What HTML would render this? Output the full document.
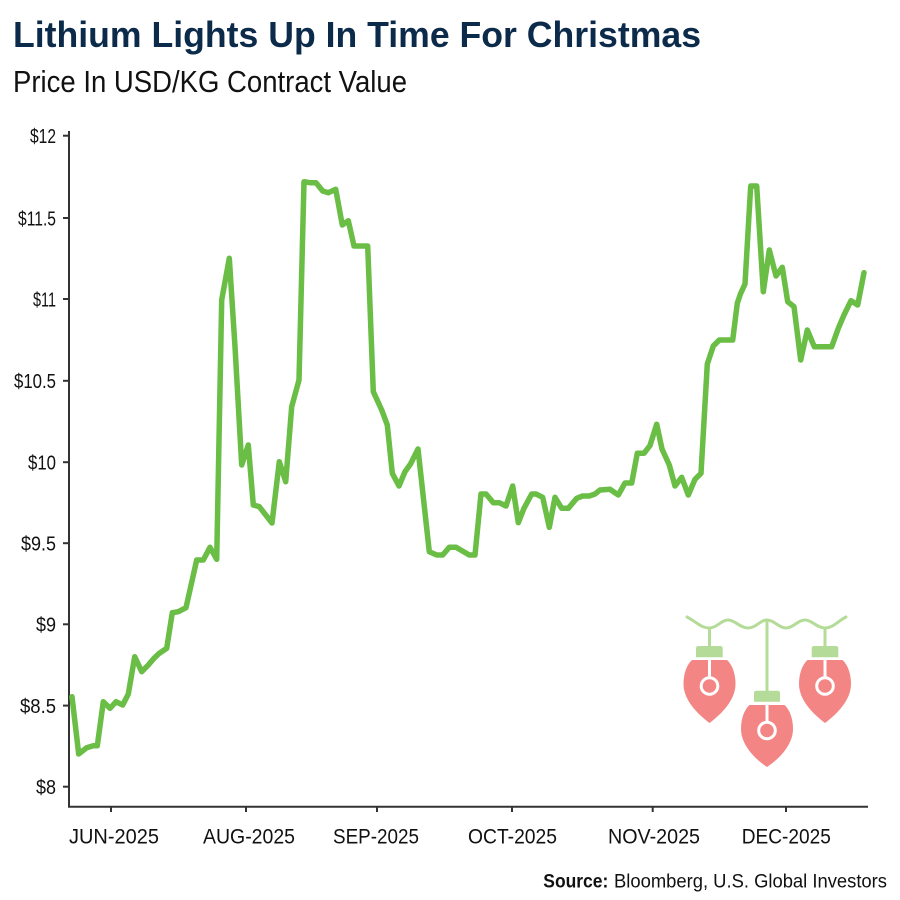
<!DOCTYPE html>
<html>
<head>
<meta charset="utf-8">
<style>
  html, body { margin:0; padding:0; background:#ffffff; }
  body { width:900px; height:900px; overflow:hidden; }
  svg { display:block; }
  text { font-family: "Liberation Sans", "DejaVu Sans", sans-serif; }
</style>
</head>
<body>
<svg width="900" height="900" viewBox="0 0 900 900" xmlns="http://www.w3.org/2000/svg">
  <rect x="0" y="0" width="900" height="900" fill="#ffffff"/>

  <!-- Title -->
  <text x="13" y="47" font-size="36" font-weight="bold" fill="#0c2b4b" textLength="688" lengthAdjust="spacingAndGlyphs">Lithium Lights Up In Time For Christmas</text>
  <text x="13" y="92" font-size="31" fill="#111111" textLength="394" lengthAdjust="spacingAndGlyphs">Price In USD/KG Contract Value</text>

  <!-- Axes -->
  <g stroke="#333333" stroke-width="2" fill="none">
    <line x1="69" y1="131" x2="69" y2="807"/>
    <line x1="68" y1="806.7" x2="868" y2="806.7"/>
    <!-- y ticks -->
    <line x1="63" y1="786.7" x2="69" y2="786.7"/>
    <line x1="63" y1="705.6" x2="69" y2="705.6"/>
    <line x1="63" y1="624.3" x2="69" y2="624.3"/>
    <line x1="63" y1="543.2" x2="69" y2="543.2"/>
    <line x1="63" y1="462.2" x2="69" y2="462.2"/>
    <line x1="63" y1="380.8" x2="69" y2="380.8"/>
    <line x1="63" y1="299" x2="69" y2="299"/>
    <line x1="63" y1="218" x2="69" y2="218"/>
    <line x1="63" y1="135.7" x2="69" y2="135.7"/>
    <!-- x ticks -->
    <line x1="111" y1="806.7" x2="111" y2="812"/>
    <line x1="246" y1="806.7" x2="246" y2="812"/>
    <line x1="377" y1="806.7" x2="377" y2="812"/>
    <line x1="512" y1="806.7" x2="512" y2="812"/>
    <line x1="652.7" y1="806.7" x2="652.7" y2="812"/>
    <line x1="786" y1="806.7" x2="786" y2="812"/>
  </g>

  <!-- Y labels -->
  <g font-size="20" fill="#111111" text-anchor="end">
    <text x="56" y="794" textLength="20" lengthAdjust="spacingAndGlyphs">$8</text>
    <text x="56" y="713" textLength="36" lengthAdjust="spacingAndGlyphs">$8.5</text>
    <text x="56" y="631.6" textLength="20" lengthAdjust="spacingAndGlyphs">$9</text>
    <text x="56" y="550.5" textLength="35" lengthAdjust="spacingAndGlyphs">$9.5</text>
    <text x="56" y="469.5" textLength="28" lengthAdjust="spacingAndGlyphs">$10</text>
    <text x="56" y="388" textLength="42" lengthAdjust="spacingAndGlyphs">$10.5</text>
    <text x="56" y="306.3" textLength="23" lengthAdjust="spacingAndGlyphs">$11</text>
    <text x="56" y="225.3" textLength="38" lengthAdjust="spacingAndGlyphs">$11.5</text>
    <text x="56" y="143" textLength="26" lengthAdjust="spacingAndGlyphs">$12</text>
  </g>

  <!-- X labels -->
  <g font-size="21.5" fill="#111111" text-anchor="middle">
    <text x="114" y="843.3" textLength="90" lengthAdjust="spacingAndGlyphs">JUN-2025</text>
    <text x="249" y="843.3" textLength="92" lengthAdjust="spacingAndGlyphs">AUG-2025</text>
    <text x="376" y="843.3" textLength="86" lengthAdjust="spacingAndGlyphs">SEP-2025</text>
    <text x="512.5" y="843.3" textLength="89" lengthAdjust="spacingAndGlyphs">OCT-2025</text>
    <text x="654" y="843.3" textLength="92" lengthAdjust="spacingAndGlyphs">NOV-2025</text>
    <text x="786.3" y="843.3" textLength="89" lengthAdjust="spacingAndGlyphs">DEC-2025</text>
  </g>

  <!-- Source -->
  <text x="543.3" y="887.3" font-size="19" font-weight="bold" fill="#111111" textLength="65" lengthAdjust="spacingAndGlyphs">Source:</text>
  <text x="614" y="887.3" font-size="19" fill="#111111" textLength="273" lengthAdjust="spacingAndGlyphs">Bloomberg, U.S. Global Investors</text>

  <!-- Data line -->
  <polyline fill="none" stroke="#6abd45" stroke-width="5.5" stroke-linejoin="round" stroke-linecap="round"
    points="72,696.7 78.7,754 86.7,747.7 93.3,745.7 97.3,745.7 103.3,701.7 110,708.3 116,701.7 122.7,705 128.3,694 134.7,656.7 141.7,671.7 148.3,665 154,658.3 159.3,653.3 166.7,648.3 172.3,612.7 178.3,611.7 186,607.7 196.7,560 203.3,560 210,547.3 216.7,559.3 221.7,300 229.3,258.3 235,346.7 241.7,465 248.3,445 253.3,505 259.3,506.7 272,523 279.3,461.7 285.7,481.7 291.7,406.7 299,380 304,181.7 310,182.7 316,182.7 322.7,191 328.3,192.7 335.7,189.3 342.3,225 348.3,220.7 354,246 367.7,246 373.3,391.7 381.7,410 387.3,425 392.3,473.3 399,486 405,471.7 410.5,464 418,449 429.3,551.7 436.7,555 442.7,555 449.3,547.3 456,547.3 469.3,555 475,555 481,494 486,494 493.3,502.7 499.3,502.7 506,506 512.7,486 518.3,522.7 524,508.3 531.7,494 536,494 542.7,497.3 549.3,527.3 555,497.3 561.7,508.3 568.3,508.3 576.7,498.3 582.7,496 589.3,496 595,494 600,490 610,489.3 618.3,495 625,483 631.7,483 637.3,453.3 644,453.3 650,445.5 656.7,424.2 662,449 669.3,465 675,486 681.7,477.3 688.3,495 695,479.3 701,473.3 707.3,364 713.3,346 719.3,340 732.7,340 737.3,303.3 740.7,293.3 745,284 750.7,186 756.7,186 763.3,291.7 769.3,250 776,276 782.3,267.3 787.7,301.7 794,306.7 800.7,360 807.3,330 814.3,346.7 831.7,346.7 838.3,328.3 844,315 851,300.7 857.7,305 864,272.7"/>

  <!-- Christmas lights ornament -->
  <g>
    <path d="M687,617 C695,621 701,628 709,628 S721,620 728,620 S740,628 748,628 S760,620 767,620 S779,628 786,628 S798,620 805,620 S817,628 825,628 S838,621 846,617"
      fill="none" stroke="#b4dc98" stroke-width="3" stroke-linecap="round"/>
    <line x1="709.5" y1="627" x2="709.5" y2="647" stroke="#b4dc98" stroke-width="3"/>
    <line x1="767" y1="620" x2="767" y2="692" stroke="#b4dc98" stroke-width="3"/>
    <line x1="825" y1="627" x2="825" y2="647" stroke="#b4dc98" stroke-width="3"/>
    <path d="M696,657.3 L696,648.5 Q696,646 698.5,646 L720.2,646 Q722.7,646 722.7,648.5 L722.7,657.3 Z" fill="#b4dc98"/>
    <path d="M754,701.7 L754,693.2 Q754,690.7 756.5,690.7 L777.5,690.7 Q780,690.7 780,693.2 L780,701.7 Z" fill="#b4dc98"/>
    <path d="M811.7,657.3 L811.7,648.5 Q811.7,646 814.2,646 L835.8,646 Q838.3,646 838.3,648.5 L838.3,657.3 Z" fill="#b4dc98"/>

    <g transform="translate(709.5,660)">
      <path d="M-17.5,0 L17.5,0 C23,5 26,14 26,24 C26,40 12,54 0,63 C-12,54 -26,40 -26,24 C-26,14 -23,5 -17.5,0 Z" fill="#f38585"/>
      <line x1="0" y1="-1" x2="0" y2="17" stroke="#ffffff" stroke-width="3"/>
      <circle cx="0" cy="26" r="8.3" fill="none" stroke="#ffffff" stroke-width="3"/>
    </g>
    <g transform="translate(767,705)">
      <path d="M-17.5,0 L17.5,0 C23,5 26,14 26,24 C26,40 12,54 0,62 C-12,54 -26,40 -26,24 C-26,14 -23,5 -17.5,0 Z" fill="#f38585"/>
      <line x1="0" y1="-1" x2="0" y2="16.5" stroke="#ffffff" stroke-width="3"/>
      <circle cx="0" cy="25.5" r="8.3" fill="none" stroke="#ffffff" stroke-width="3"/>
    </g>
    <g transform="translate(825,660)">
      <path d="M-17.5,0 L17.5,0 C23,5 26,14 26,24 C26,40 12,54 0,63 C-12,54 -26,40 -26,24 C-26,14 -23,5 -17.5,0 Z" fill="#f38585"/>
      <line x1="0" y1="-1" x2="0" y2="17" stroke="#ffffff" stroke-width="3"/>
      <circle cx="0" cy="26" r="8.3" fill="none" stroke="#ffffff" stroke-width="3"/>
    </g>
  </g>
</svg>
</body>
</html>
